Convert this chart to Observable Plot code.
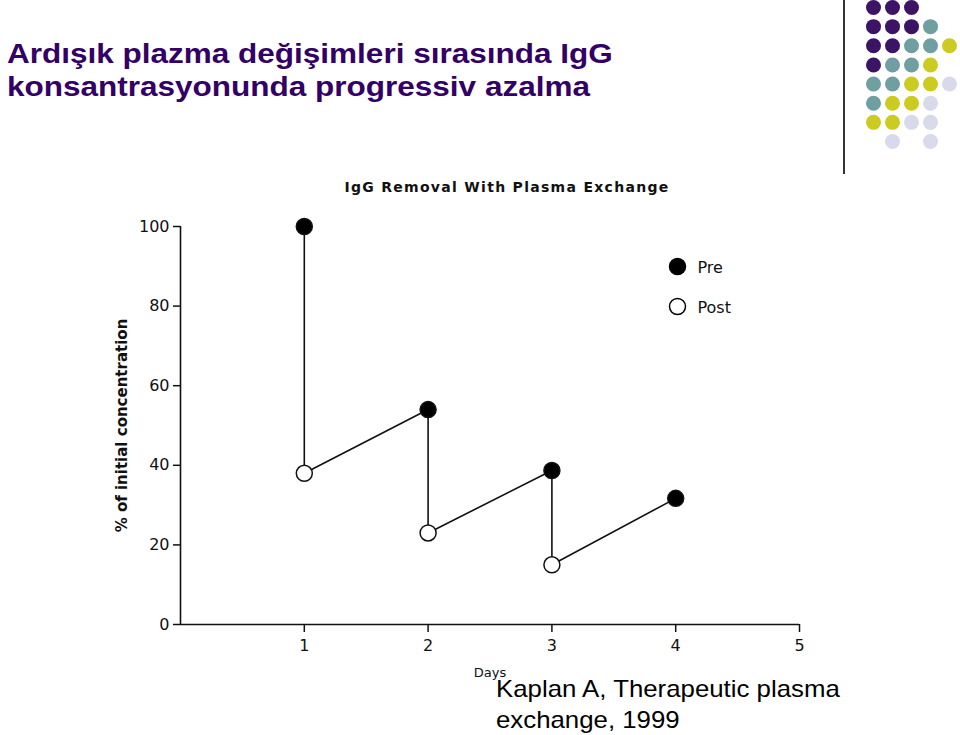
<!DOCTYPE html>
<html>
<head>
<meta charset="utf-8">
<script src="https://cdn.jsdelivr.net/npm/d3@7"></script>
<script src="https://cdn.jsdelivr.net/npm/@observablehq/plot@0.6"></script>
<style>
  html, body { margin: 0; padding: 0; background: #fff; }
  #page { position: relative; width: 960px; height: 735px; overflow: hidden; background: #fff; }
  #title { position: absolute; left: 7px; top: 37px; font-family: "Liberation Sans", Arial, sans-serif; font-weight: bold; font-size: 28px; line-height: 33px; color: #330066; white-space: nowrap; transform: scaleX(1.125); transform-origin: 0 0; }
  #caption { position: absolute; left: 496px; top: 673px; font-family: "Liberation Sans", Arial, sans-serif; font-size: 24px; line-height: 31px; color: #000; white-space: nowrap; transform: scaleX(1.075); transform-origin: 0 0; }
  #vline { position: absolute; left: 843px; top: 0; width: 2px; height: 174px; background: #333; }
  #chart, #decor { position: absolute; }
  #chart { left: 0; top: 0; }
  #decor { left: 860px; top: 0; }
</style>
</head>
<body>
<div id="page">
  <div id="chart"></div>
  <div id="decor"></div>
  <div id="vline"></div>
  <div id="title">Ardışık plazma değişimleri sırasında IgG<br>konsantrasyonunda progressiv azalma</div>
  <div id="caption">Kaplan A, Therapeutic plasma<br>exchange, 1999</div>
</div>
<script>
// ---- data ----
const days = [1, 2, 3, 4];
const preValues = [100, 54, 38.7, 31.7];
const postValues = [38, 23, 15];
const xTicks = [1, 2, 3, 4, 5];
const yTicks = [0, 20, 40, 60, 80, 100];
const chartTitle = "IgG Removal With Plasma Exchange";
const xLabel = "Days";
const yLabel = "% of initial concentration";
const legendItems = ["Pre", "Post"];

// decorative dot grid (P purple, T teal, Y yellow, L lavender)
const dotRows = ["PPP..", "PPPT.", "PPTTY", "PTTY.", "TTYYL", "TYYL.", "YYLL.", ".L.L."];
const dotColors = {P: "#3b1466", T: "#6f9fa0", Y: "#cccb22", L: "#d9d9ec"};

// ---- build tables ----
const seq = [];
days.forEach((d, i) => {
  seq.push({day: d, value: preValues[i], kind: "Pre"});
  if (i < postValues.length) seq.push({day: d, value: postValues[i], kind: "Post"});
});

const font = "'DejaVu Sans', sans-serif";

const legendMarks = [];
legendItems.forEach((k, i) => {
  legendMarks.push(Plot.dot([k], {frameAnchor: "top-right", dx: -122, dy: 40 + 40 * i, r: 8,
    fill: k === "Pre" ? "black" : "white", stroke: "black", strokeWidth: 1.5}));
  legendMarks.push(Plot.text([k], {frameAnchor: "top-right", dx: -102, dy: 41 + 40 * i, text: d => d,
    textAnchor: "start", lineAnchor: "middle", fontSize: 16, fill: "#111"}));
});

const chart = Plot.plot({
  width: 960, height: 735,
  marginLeft: 180, marginRight: 161, marginTop: 226, marginBottom: 111,
  x: {domain: [0, 5]},
  y: {domain: [0, 100]},
  style: {fontFamily: font, background: "transparent", color: "#111"},
  marks: [
    Plot.ruleX([0], {stroke: "#111", strokeWidth: 1.6}),
    Plot.ruleY([0], {stroke: "#111", strokeWidth: 1.6}),
    Plot.axisY({ticks: yTicks, tickFormat: d => String(d), tickSize: 7, tickPadding: 4, fontSize: 16, label: null, strokeWidth: 1.5}),
    Plot.axisX({ticks: xTicks, tickFormat: d => String(d), tickSize: 8, tickPadding: 7, fontSize: 16, label: null, strokeWidth: 1.5}),
    Plot.text([yLabel], {frameAnchor: "left", rotate: -90, dx: -58, text: d => d, textAnchor: "middle", fontSize: 15, fontWeight: "bold", fill: "#111"}),
    Plot.text([xLabel], {frameAnchor: "bottom", dy: 48, text: d => d, lineAnchor: "middle", fontSize: 13, fill: "#111"}),
    Plot.text([chartTitle], {frameAnchor: "top", dx: 17, dy: -39, text: d => d, lineAnchor: "middle", fontSize: 14, fontWeight: "bold", fill: "#111"}),
    Plot.line(seq, {x: "day", y: "value", stroke: "#111", strokeWidth: 1.6}),
    Plot.dot(seq, {x: "day", y: "value", r: 8, fill: d => d.kind === "Pre" ? "black" : "white", stroke: "#111", strokeWidth: 1.5}),
    ...legendMarks
  ]
});
// widen the letter spacing of the chart title like the scanned original
d3.select(chart).selectAll("text").filter(function () { return this.textContent === chartTitle; })
  .style("letter-spacing", "1.3px");
document.getElementById("chart").appendChild(chart);

const dots = [];
dotRows.forEach((row, r) => row.split("").forEach((c, col) => {
  if (c !== ".") dots.push({col, row: r, color: dotColors[c]});
}));
const decor = Plot.plot({
  width: 100, height: 155,
  marginLeft: 13, marginRight: 11, marginTop: 7, marginBottom: 14,
  x: {domain: [0, 4], axis: null},
  y: {domain: [0, 7], reverse: true, axis: null},
  style: {background: "transparent"},
  marks: [Plot.dot(dots, {x: "col", y: "row", r: 7.5, fill: "color", stroke: "none"})]
});
document.getElementById("decor").appendChild(decor);
</script>
</body>
</html>
